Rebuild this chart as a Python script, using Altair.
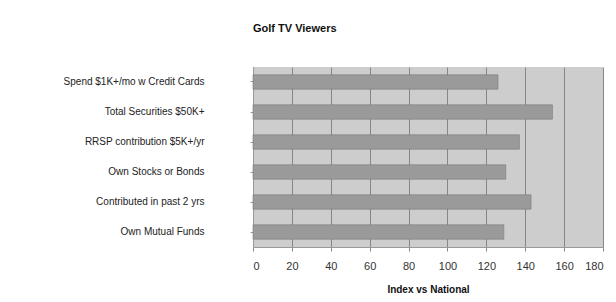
import altair as alt
import pandas as pd

categories = [
    "Spend $1K+/mo w Credit Cards",
    "Total Securities $50K+",
    "RRSP contribution $5K+/yr",
    "Own Stocks or Bonds",
    "Contributed in past 2 yrs",
    "Own Mutual Funds",
]
index_values = [126, 154, 137, 130, 143, 129]
x_ticks = [0, 20, 40, 60, 80, 100, 120, 140, 160, 180]

df = pd.DataFrame({"category": categories, "index": index_values})

chart = (
    alt.Chart(df)
    .mark_bar(color="#9a9a9a", stroke="#7a7a7a", strokeWidth=0.6)
    .encode(
        x=alt.X(
            "index:Q",
            scale=alt.Scale(domain=[0, 180], nice=False),
            axis=alt.Axis(
                values=x_ticks,
                title="Index vs National",
                titleFont="Liberation Sans",
                titleFontSize=10,
                titleFontWeight="bold",
                titleColor="#111",
                titlePadding=13,
                labelFont="Liberation Sans",
                labelFontSize=11,
                labelColor="#333",
                labelPadding=9,
                tickSize=4,
                tickColor="#888",
                domainColor="#999",
                grid=True,
                gridColor="#868686",
                gridWidth=1,
            ),
        ),
        y=alt.Y(
            "category:N",
            sort=categories,
            scale=alt.Scale(paddingInner=0.52, paddingOuter=0.26),
            axis=alt.Axis(
                title=None,
                labelFont="Liberation Sans",
                labelFontSize=10,
                labelColor="#222",
                labelPadding=46,
                tickSize=3,
                tickColor="#999",
                domainColor="#999",
                grid=False,
            ),
        ),
    )
    .properties(
        width=350,
        height=180,
        background="white",
        title=alt.TitleParams(
            "Golf TV Viewers",
            anchor="start",
            frame="group",
            font="Liberation Sans",
            fontSize=11,
            fontWeight="bold",
            color="#111",
            offset=33,
        ),
        autosize=alt.AutoSizeParams(type="none"),
        padding={"left": 245, "top": 59, "right": 5, "bottom": 50},
    )
    .configure_view(fill="#cdcdcd", strokeWidth=0)
)

chart.save("out.html", embed_options={"renderer": "svg", "actions": False})
